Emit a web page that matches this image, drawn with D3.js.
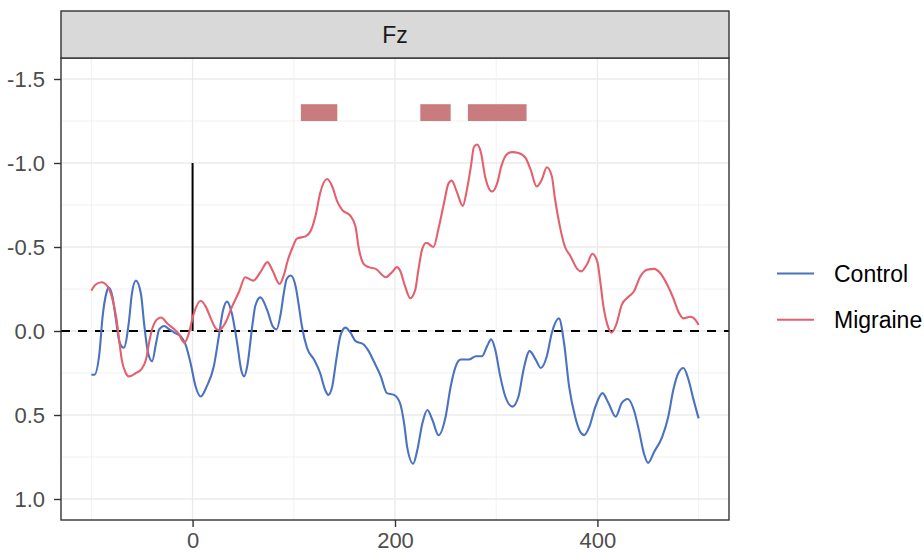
<!DOCTYPE html>
<html>
<head>
<meta charset="utf-8">
<script src="https://cdn.jsdelivr.net/npm/d3@7"></script>
<style>
  body { margin: 0; background: #fff; }
  svg text { font-family: "Liberation Sans", Arial, sans-serif; }
</style>
</head>
<body>
<svg id="chart" width="924" height="554"></svg>
<script>
// channel / groups
let channel = "Fz";
let groups = ["Control", "Migraine"];
let groupColors = ["#4A72C0", "#E4606E"];

// ERP waves, [ms, amplitude]
let controlWave = [[-100,0.26],[-97,0.26],[-92,0.13],[-89,-0.08],[-85,-0.23],[-83,-0.26],[-79,-0.20],[-76,-0.08],[-72,0.07],[-68,0.10],[-63,-0.05],[-60,-0.22],[-56,-0.30],[-51,-0.22],[-48,-0.05],[-44,0.13],[-40,0.18],[-36,0.07],[-33,-0.01],[-28,-0.03],[-23,-0.01],[-18,0.01],[-12,0.03],[-7,0.08],[-2,0.19],[3,0.33],[8,0.39],[14,0.33],[21,0.21],[26,0.03],[30,-0.12],[34,-0.175],[39,-0.10],[44,0.07],[48,0.23],[51,0.27],[54,0.21],[59,-0.03],[62,-0.15],[67,-0.20],[74,-0.12],[79,-0.03],[83,-0.01],[87,-0.10],[90,-0.22],[93,-0.31],[97,-0.33],[102,-0.26],[105,-0.15],[108,-0.03],[113,0.10],[120,0.17],[126,0.25],[131,0.35],[134,0.38],[138,0.33],[142,0.17],[146,0.03],[151,-0.02],[156,0.01],[161,0.06],[169,0.08],[174,0.12],[179,0.18],[186,0.27],[192,0.37],[199,0.38],[205,0.43],[209,0.55],[212,0.69],[218,0.79],[222,0.71],[227,0.55],[232,0.47],[237,0.53],[243,0.62],[250,0.51],[255,0.33],[260,0.21],[265,0.17],[273,0.17],[280,0.15],[286,0.15],[291,0.09],[295,0.05],[299,0.11],[304,0.27],[309,0.39],[316,0.45],[322,0.39],[327,0.23],[333,0.12],[339,0.17],[344,0.22],[350,0.15],[355,0.01],[362,-0.075],[367,0.07],[372,0.33],[378,0.51],[383,0.60],[387,0.62],[392,0.57],[398,0.45],[405,0.37],[411,0.43],[418,0.51],[424,0.43],[430,0.405],[436,0.47],[441,0.59],[446,0.73],[450,0.785],[456,0.72],[464,0.63],[470,0.51],[475,0.35],[480,0.25],[485,0.22],[490,0.29],[495,0.41],[500,0.52]];

let migraineWave = [[-100,-0.24],[-96,-0.275],[-90,-0.29],[-84,-0.265],[-79,-0.185],[-75,-0.065],[-73,0.03],[-70,0.17],[-66,0.25],[-63,0.27],[-56,0.25],[-51,0.23],[-46,0.17],[-43,0.07],[-40,-0.01],[-37,-0.055],[-31,-0.08],[-25,-0.045],[-19,-0.015],[-14,0.015],[-8,0.07],[-4,0.02],[1,-0.10],[8,-0.18],[13,-0.145],[18,-0.075],[23,-0.015],[26,-0.005],[33,-0.055],[39,-0.145],[46,-0.235],[52,-0.32],[60,-0.30],[67,-0.35],[74,-0.41],[79,-0.36],[86,-0.28],[90,-0.33],[94,-0.42],[99,-0.50],[103,-0.55],[112,-0.565],[117,-0.60],[122,-0.70],[126,-0.82],[133,-0.905],[138,-0.86],[143,-0.77],[148,-0.72],[156,-0.685],[161,-0.62],[164,-0.50],[169,-0.40],[174,-0.38],[181,-0.37],[191,-0.32],[197,-0.35],[202,-0.38],[205,-0.36],[210,-0.265],[215,-0.195],[220,-0.245],[223,-0.36],[227,-0.49],[231,-0.525],[238,-0.50],[243,-0.61],[248,-0.75],[253,-0.88],[256,-0.895],[261,-0.83],[267,-0.745],[271,-0.84],[275,-0.98],[278,-1.095],[281,-1.11],[285,-1.06],[289,-0.92],[296,-0.83],[301,-0.88],[305,-0.98],[311,-1.055],[316,-1.065],[322,-1.06],[329,-1.03],[334,-0.96],[340,-0.86],[345,-0.90],[350,-0.975],[355,-0.92],[358,-0.79],[363,-0.62],[368,-0.50],[373,-0.45],[380,-0.37],[384,-0.355],[390,-0.40],[395,-0.46],[400,-0.41],[403,-0.285],[406,-0.145],[410,-0.035],[414,0.01],[419,-0.045],[424,-0.155],[431,-0.205],[436,-0.235],[442,-0.32],[449,-0.365],[456,-0.37],[462,-0.345],[469,-0.275],[475,-0.195],[480,-0.115],[485,-0.075],[492,-0.085],[497,-0.065],[500,-0.035]];

// significant windows (ms) and their band
let sigStart = [107, 225, 272];
let sigEnd = [143, 255, 330];
let sigBand = [-1.35, -1.25];

// stimulus marker
let stimTime = 0;
let stimTop = -1.0;

// ticks
let xTicks = [0, 200, 400];
let xMinor = [-100, 100, 300, 500];
let yTicks = [-1.5, -1.0, -0.5, 0.0, 0.5, 1.0];
let yMinor = [-1.25, -0.75, -0.25, 0.25, 0.75];

let panel = {left: 61, right: 729, top: 58, bottom: 520};
let stripTop = 11;

let svg = d3.select("#chart");

let x = d3.scaleLinear()
    .domain([-130, 530])
    .range([panel.left, panel.right]);

// amplitude axis is flipped: negative up
let y = d3.scaleLinear()
    .domain([-1.625, 1.125])
    .range([panel.top, panel.bottom]);

svg.append("rect")
    .attr("width", 924).attr("height", 554)
    .attr("fill", "#fff");

// grid
let grid = svg.append("g");
grid.selectAll(".ymin").data(yMinor).enter().append("line")
    .attr("x1", panel.left).attr("x2", panel.right)
    .attr("y1", d => y(d)).attr("y2", d => y(d))
    .attr("stroke", "#EBEBEB").attr("stroke-width", 0.7);
grid.selectAll(".xmin").data(xMinor).enter().append("line")
    .attr("y1", panel.top).attr("y2", panel.bottom)
    .attr("x1", d => x(d)).attr("x2", d => x(d))
    .attr("stroke", "#EBEBEB").attr("stroke-width", 0.7);
grid.selectAll(".ymaj").data(yTicks).enter().append("line")
    .attr("x1", panel.left).attr("x2", panel.right)
    .attr("y1", d => y(d)).attr("y2", d => y(d))
    .attr("stroke", "#EBEBEB").attr("stroke-width", 1.4);
grid.selectAll(".xmaj").data(xTicks).enter().append("line")
    .attr("y1", panel.top).attr("y2", panel.bottom)
    .attr("x1", d => x(d)).attr("x2", d => x(d))
    .attr("stroke", "#EBEBEB").attr("stroke-width", 1.4);

svg.append("clipPath").attr("id", "clip")
    .append("rect")
    .attr("x", panel.left).attr("y", panel.top)
    .attr("width", panel.right - panel.left)
    .attr("height", panel.bottom - panel.top);

let plot = svg.append("g").attr("clip-path", "url(#clip)");

// significance bars
plot.selectAll(".sig")
    .data(sigStart)
    .enter()
    .append("rect")
    .attr("x", d => x(d))
    .attr("width", (d, i) => x(sigEnd[i]) - x(d))
    .attr("y", y(sigBand[0]))
    .attr("height", y(sigBand[1]) - y(sigBand[0]))
    .attr("fill", "#C97C7E");

// zero line
plot.append("line")
    .attr("x1", panel.left).attr("x2", panel.right)
    .attr("y1", y(0)).attr("y2", y(0))
    .attr("stroke", "#000").attr("stroke-width", 2)
    .attr("stroke-dasharray", "9,8");

// stimulus onset
plot.append("line")
    .attr("x1", x(stimTime)).attr("x2", x(stimTime))
    .attr("y1", y(0)).attr("y2", y(stimTop))
    .attr("stroke", "#000").attr("stroke-width", 2);

let line = d3.line()
    .x(d => x(d[0]))
    .y(d => y(d[1]))
    .curve(d3.curveMonotoneX);

let waves = [controlWave, migraineWave];
plot.selectAll(".wave")
    .data(waves)
    .enter()
    .append("path")
    .attr("d", d => line(d))
    .attr("fill", "none")
    .attr("stroke", (d, i) => groupColors[i])
    .attr("stroke-width", 2.1)
    .attr("stroke-linejoin", "round");

// panel border
svg.append("rect")
    .attr("x", panel.left).attr("y", panel.top)
    .attr("width", panel.right - panel.left)
    .attr("height", panel.bottom - panel.top)
    .attr("fill", "none").attr("stroke", "#333").attr("stroke-width", 1.4);

// facet strip
svg.append("rect")
    .attr("x", panel.left).attr("y", stripTop)
    .attr("width", panel.right - panel.left)
    .attr("height", panel.top - stripTop)
    .attr("fill", "#D9D9D9").attr("stroke", "#333").attr("stroke-width", 1.4);
svg.append("text")
    .attr("x", (panel.left + panel.right) / 2)
    .attr("y", (stripTop + panel.top) / 2)
    .attr("dy", "0.36em")
    .attr("text-anchor", "middle")
    .attr("font-size", "23px")
    .attr("fill", "#1A1A1A")
    .text(channel);

// axes
let yAxis = d3.axisLeft(y)
    .tickValues(yTicks)
    .tickFormat(d => d.toFixed(1))
    .tickSize(7)
    .tickPadding(9);
let gy = svg.append("g")
    .attr("transform", "translate(" + panel.left + ",0)")
    .call(yAxis);

let xAxis = d3.axisBottom(x)
    .tickValues(xTicks)
    .tickFormat(d3.format("d"))
    .tickSize(7)
    .tickPadding(5);
let gx = svg.append("g")
    .attr("transform", "translate(0," + panel.bottom + ")")
    .call(xAxis);

[gx, gy].forEach(function (g) {
    g.select(".domain").remove();
    g.selectAll(".tick line").attr("stroke", "#333").attr("stroke-width", 1.4);
    g.selectAll(".tick text")
        .attr("fill", "#4D4D4D")
        .attr("font-size", "22px")
        .attr("font-family", "Liberation Sans, Arial, sans-serif");
});

// legend
let legend = svg.append("g")
    .selectAll("g")
    .data(groups)
    .enter()
    .append("g")
    .attr("transform", (d, i) => "translate(777," + (273.5 + i * 46.3) + ")");
legend.append("line")
    .attr("x1", 0).attr("x2", 37)
    .attr("stroke", (d, i) => groupColors[i])
    .attr("stroke-width", 2.1);
legend.append("text")
    .attr("x", 57)
    .attr("dy", "0.36em")
    .attr("font-size", "23px")
    .attr("fill", "#000")
    .text(d => d);
</script>
</body>
</html>
